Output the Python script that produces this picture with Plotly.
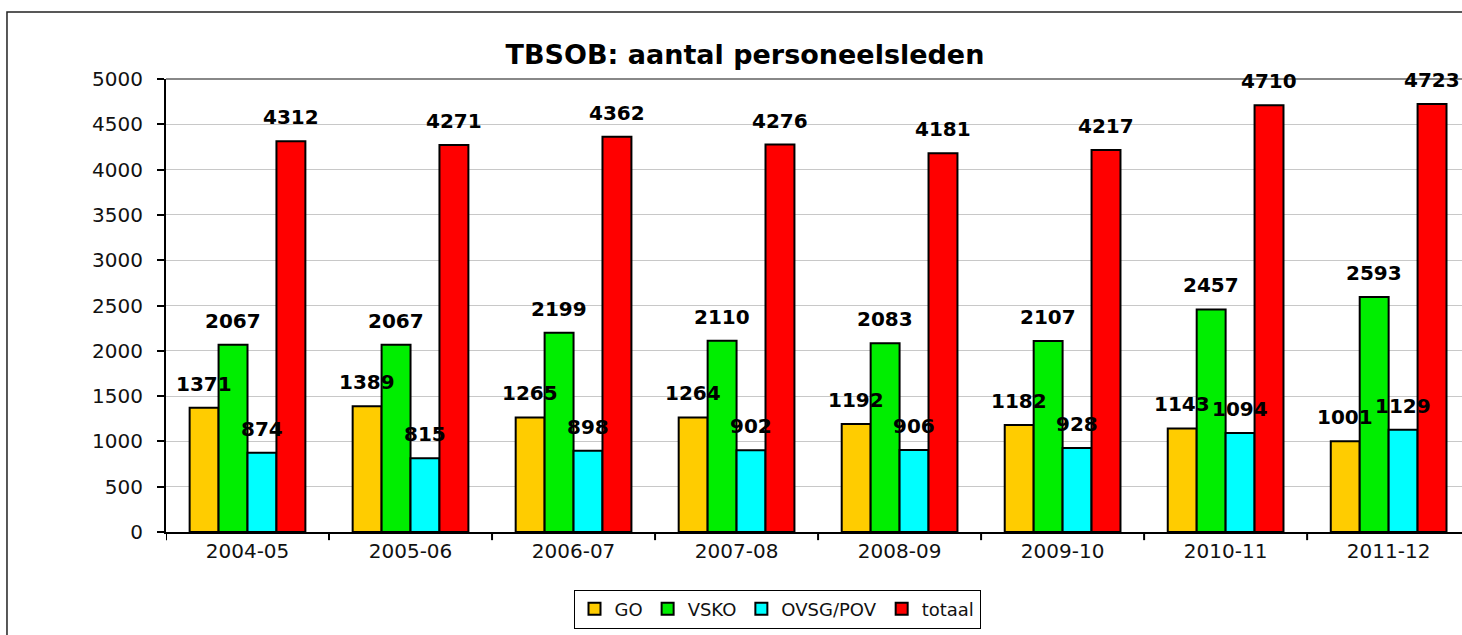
import numpy as np
import plotly.graph_objects as go

years = ["2004-05", "2005-06", "2006-07", "2007-08", "2008-09", "2009-10", "2010-11", "2011-12"]
go_vals = [1371, 1389, 1265, 1264, 1192, 1182, 1143, 1001]
vsko_vals = [2067, 2067, 2199, 2110, 2083, 2107, 2457, 2593]
ovsg_vals = [874, 815, 898, 902, 906, 928, 1094, 1129]
totaal_vals = [4312, 4271, 4362, 4276, 4181, 4217, 4710, 4723]

series = [
    ("GO", go_vals, "#FFCC00"),
    ("VSKO", vsko_vals, "#00EE00"),
    ("OVSG/POV", ovsg_vals, "#00FFFF"),
    ("totaal", totaal_vals, "#FF0000"),
]

FONT = "DejaVu Sans, Liberation Sans, Arial"

xs = np.arange(len(years))
bargap = 0.29
bw = (1 - bargap) / len(series)

fig = go.Figure()
annotations = []
for k, (name, vals, color) in enumerate(series):
    fig.add_trace(go.Bar(
        x=xs, y=vals, name=name,
        marker=dict(color=color, line=dict(color="black", width=2)),
    ))
    # value labels above each bar
    off = -(1 - bargap) / 2 + bw * (k + 0.5)
    for i, v in enumerate(vals):
        annotations.append(dict(
            x=i + off, y=v, text="<b>%d</b>" % v, showarrow=False,
            xanchor="center", yanchor="bottom", yshift=10,
            font=dict(family=FONT, size=20, color="black"),
        ))

# chart frame + darker top line
shapes = [
    dict(type="rect", xref="paper", yref="paper", x0=-0.1227, x1=1.1, y0=-0.4, y1=1.148,
         line=dict(color="#222222", width=1.5), layer="below"),
    dict(type="line", xref="paper", yref="paper", x0=0, x1=1, y0=1, y1=1,
         line=dict(color="#888888", width=2)),
]

fig.update_layout(
    width=1462, height=635,
    barmode="group", bargap=bargap, bargroupgap=0,
    paper_bgcolor="white", plot_bgcolor="white",
    margin=dict(l=166, r=0, t=79, b=103),
    font=dict(family=FONT, color="black"),
    title=dict(text="<b>TBSOB: aantal personeelsleden</b>", x=745 / 1462, xanchor="center",
               y=1 - 55 / 635, yanchor="middle", font=dict(size=27, color="black")),
    xaxis=dict(tickvals=xs, ticktext=years, range=[-0.5, 7.45],
               showline=True, linecolor="black", linewidth=2,
               ticks="", tickfont=dict(size=20, color="#111111"), showgrid=False),
    yaxis=dict(range=[0, 5000], dtick=500, showline=True, linecolor="black", linewidth=2,
               ticks="outside", ticklen=7, tickcolor="black", tickwidth=2,
               ticklabelstandoff=10,
               tickfont=dict(size=20, color="#111111"),
               gridcolor="#c8c8c8", gridwidth=1, zeroline=False),
    legend=dict(orientation="h", xref="container", yref="container",
                x=777 / 1462, xanchor="center", y=26 / 635, yanchor="middle",
                bordercolor="black", borderwidth=1, bgcolor="white",
                font=dict(size=18, color="#111111"), itemwidth=30, traceorder="normal"),
    annotations=annotations,
    shapes=shapes,
)

# category separator ticks on the x axis
for b in np.arange(-0.5, 8, 1):
    fig.add_shape(type="line", xref="x", yref="paper", x0=b, x1=b, y0=0, y1=-0.018,
                  line=dict(color="black", width=2))

fig.write_html("out.html", config={"displayModeBar": False},
               post_script="document.body.style.margin='0';document.body.style.overflow='hidden';")
